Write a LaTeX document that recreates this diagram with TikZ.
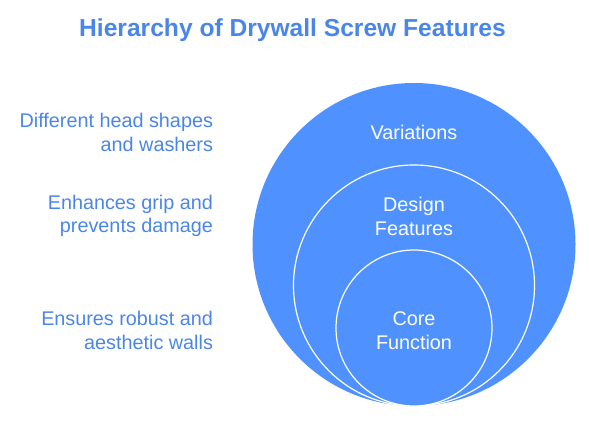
\documentclass[tikz,border=0pt]{standalone}
\usepackage{fontspec}
\setmainfont{Liberation Sans}

\definecolor{ringblue}{RGB}{79,146,255}
\definecolor{textblue}{RGB}{74,134,232}

\tikzset{
  ring/.style={circle, fill=ringblue, draw=white, line width=1.2pt, inner sep=0pt},
  ringlabel/.style={text=white, font=\fontsize{19.8}{23.5}\selectfont, align=center},
  sidelabel/.style={text=textblue, font=\fontsize{19.8}{23.5}\selectfont, align=right, anchor=east},
}

\begin{document}
\begin{tikzpicture}[x=1pt, y=1pt]
\useasboundingbox (0,0) rectangle (589,421);

\node[font=\bfseries\fontsize{24.6}{28}\selectfont, text=textblue] (title) at (292.5,391) {Hierarchy of Drywall Screw Features};

% nested circles, all touching at the bottom
\node[ring, draw=none, minimum size=323] (variations) at (414,176.5) {};
\node[ring, minimum size=241] (design) at (414,135.5) {};
\node[ring, minimum size=156] (core) at (414,93) {};

\node[ringlabel] (variationstext) at (414,289) {Variations};
\node[ringlabel] (designtext) at (414,204.5) {Design\\Features};
\node[ringlabel] (coretext) at (414,90.5) {Core\\Function};

\node[sidelabel] (variationsnote) at (216.5,288.5) {Different head shapes\\and washers};
\node[sidelabel] (designnote) at (216.5,205) {Enhances grip and\\prevents damage};
\node[sidelabel] (corenote) at (216.5,90.5) {Ensures robust and\\aesthetic walls};
\end{tikzpicture}
\end{document}
